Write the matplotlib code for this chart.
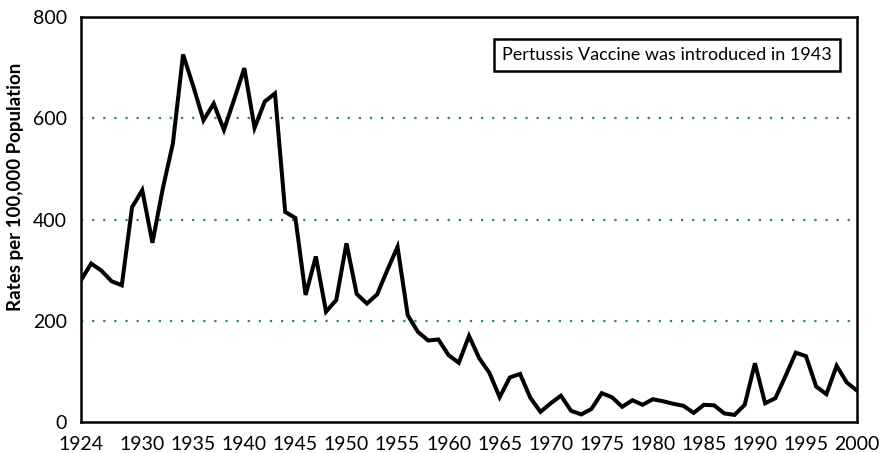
import matplotlib.pyplot as plt

# Anni e tassi di pertosse (per 100.000 abitanti)
years = list(range(1924, 2001))
rates = [280, 313, 299, 278, 270, 424, 458, 354, 460, 550,
         726, 663, 596, 629, 577, 637, 699, 581, 633, 649,
         415, 403, 251, 327, 218, 241, 353, 253, 234, 252,
         300, 346, 211, 178, 161, 163, 132, 117, 170, 126,
         97, 49, 88, 95, 48, 20, 37, 52, 22, 15,
         26, 57, 49, 30, 43, 34, 45, 41, 36, 32,
         18, 34, 33, 17, 14, 34, 116, 37, 47, 91,
         137, 130, 70, 55, 111, 78, 62]

xtick_labels = [1924, 1930, 1935, 1940, 1945, 1950, 1955, 1960, 1965,
                1970, 1975, 1980, 1985, 1990, 1995, 2000]
inner_ticks = list(range(1930, 2000, 5))
ytick_values = [0, 200, 400, 600, 800]
note = "Pertussis Vaccine was introduced in 1943"

teal = "#1b8a78"
plt.rcParams['font.family'] = ['Lato', 'DejaVu Sans']

fig = plt.figure(figsize=(8.82, 4.53), dpi=100)
ax = fig.add_axes([0.0918, 0.0684, 0.8799, 0.8941])

# Griglia orizzontale punteggiata
for y in [200, 400, 600]:
    ax.axhline(y, color=teal, linestyle=(0, (1, 4)), linewidth=1.6, zorder=1)

ax.plot(years, rates, color="black", linewidth=2.9, solid_joinstyle="miter", zorder=3)

ax.set_xlim(1924, 2000)
ax.set_ylim(0, 800)

ax.set_xticks(xtick_labels)
ax.set_xticklabels([str(v) for v in xtick_labels], fontsize=14)
ax.tick_params(axis="x", length=0, pad=10)
ax.set_xticks(inner_ticks, minor=True)
ax.tick_params(axis="x", which="minor", direction="in", length=7, width=1.6, color=teal)

ax.set_yticks(ytick_values)
ax.set_yticklabels([str(v) for v in ytick_values], fontsize=14)
ax.tick_params(axis="y", length=0, pad=10)

ax.set_ylabel("Rates per 100,000 Population", fontsize=13.5, fontweight="bold")
ax.yaxis.set_label_coords(-0.074, 0.58)

for s in ax.spines.values():
    s.set_linewidth(1.8)

ax.text(0.968, 0.906, note, transform=ax.transAxes, ha="right", va="center",
        fontsize=13, zorder=4,
        bbox=dict(boxstyle="square,pad=0.45", facecolor="white", edgecolor="black", linewidth=1.8))

fig.savefig("out.png", dpi=100)
